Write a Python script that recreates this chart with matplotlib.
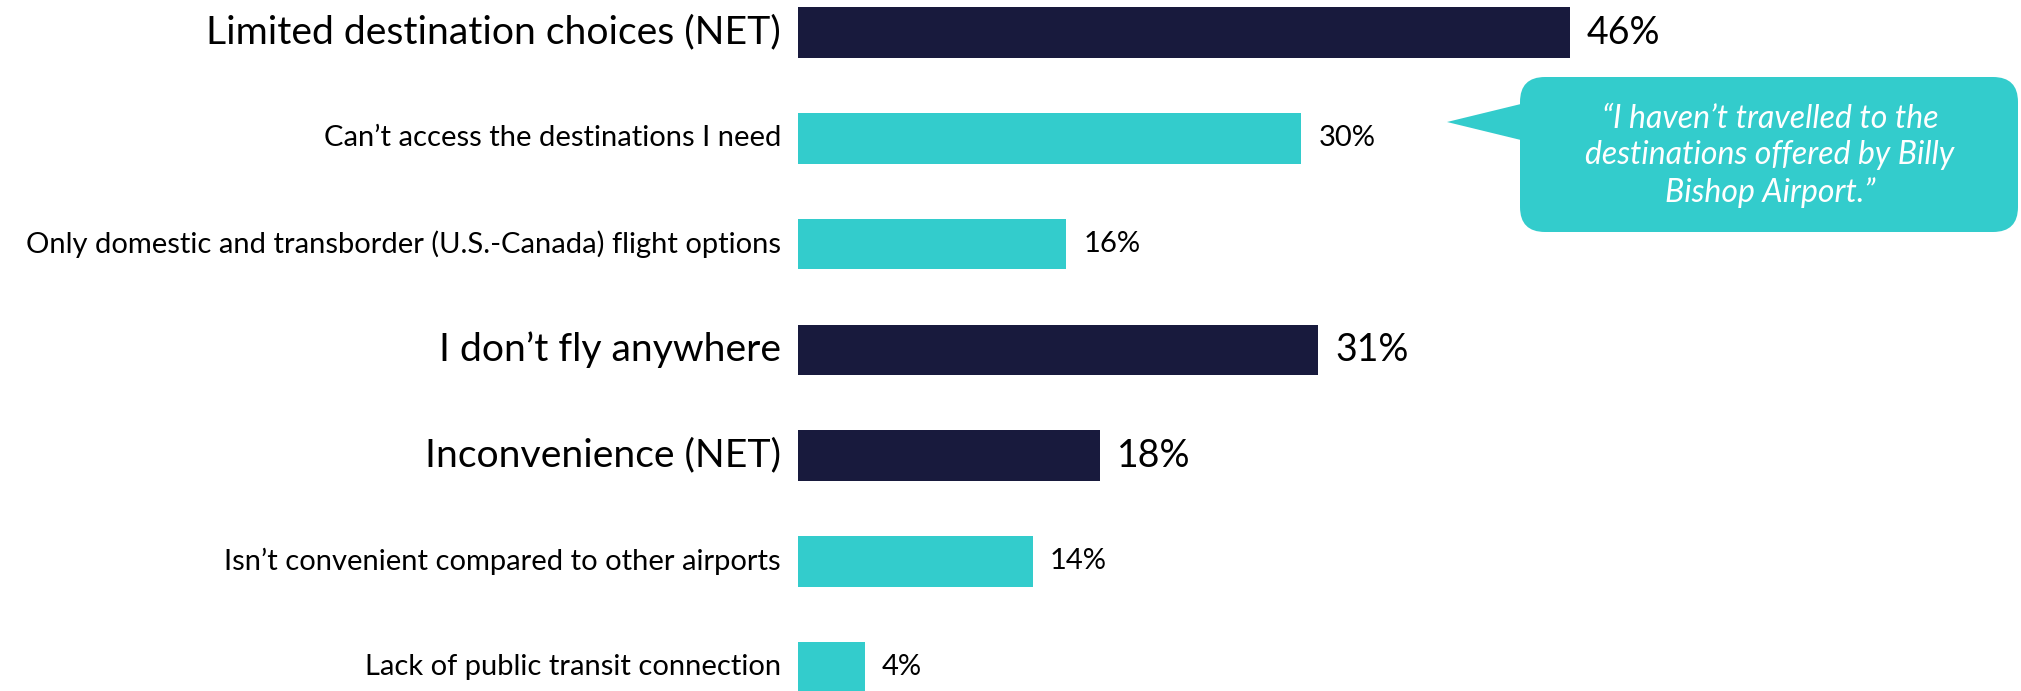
import matplotlib
matplotlib.use("Agg")
import matplotlib.pyplot as plt
from matplotlib.patches import FancyBboxPatch, Polygon

# ---- data ----
labels = [
    "Limited destination choices (NET)",
    "Can\u2019t access the destinations I need",
    "Only domestic and transborder (U.S.-Canada) flight options",
    "I don\u2019t fly anywhere",
    "Inconvenience (NET)",
    "Isn\u2019t convenient compared to other airports",
    "Lack of public transit connection",
]
values = [46, 30, 16, 31, 18, 14, 4]
is_net = [True, False, False, True, True, False, False]
quote = "\u201cI haven\u2019t travelled to the\ndestinations offered by Billy\nBishop Airport.\u201d"

NAVY = "#181A3D"
TEAL = "#33CCCC"

plt.rcParams["font.family"] = ["Lato", "DejaVu Sans"]

W, H = 2021, 691
fig = plt.figure(figsize=(W / 100, H / 100), dpi=100)
ax = fig.add_axes([0, 0, 1, 1])

# pixel layout: bars start at x=798, 16.78 px per %, rows 105.8 px apart from y=32
px_per = 16.78
x0 = 798
ax.set_xlim(-x0 / px_per, (W - x0) / px_per)
row0, step = 32.5, 105.8
ax.set_ylim((H - row0) / step, -row0 / step)
ax.axis("off")

for i, (lab, v, net) in enumerate(zip(labels, values, is_net)):
    ax.barh(i, v, height=0.48, color=NAVY if net else TEAL, edgecolor="none")
    fs_lab = 28.2 if net else 21
    fs_val = 27 if net else 21
    ax.text(-17 / px_per, i, lab, ha="right", va="center", fontsize=fs_lab,
            color="black")
    ax.text(v + 17 / px_per, i, f"{v}%", ha="left", va="center",
            fontsize=fs_val, color="black")

# callout in pixel coordinates
ov = fig.add_axes([0, 0, 1, 1])
ov.set_xlim(0, W)
ov.set_ylim(H, 0)
ov.axis("off")
ov.patch.set_alpha(0)
box = FancyBboxPatch((1520, 77), 498, 155, boxstyle="round,pad=0,rounding_size=25",
                     facecolor=TEAL, edgecolor="none")
ov.add_patch(box)
ov.add_patch(Polygon([(1447, 122), (1525, 103), (1525, 141)], closed=True,
                     facecolor=TEAL, edgecolor="none"))
ov.text(1770, 156, quote, ha="center", va="center", fontsize=23, color="white",
        style="italic", linespacing=1.28)

fig.savefig("out.png", dpi=100)
